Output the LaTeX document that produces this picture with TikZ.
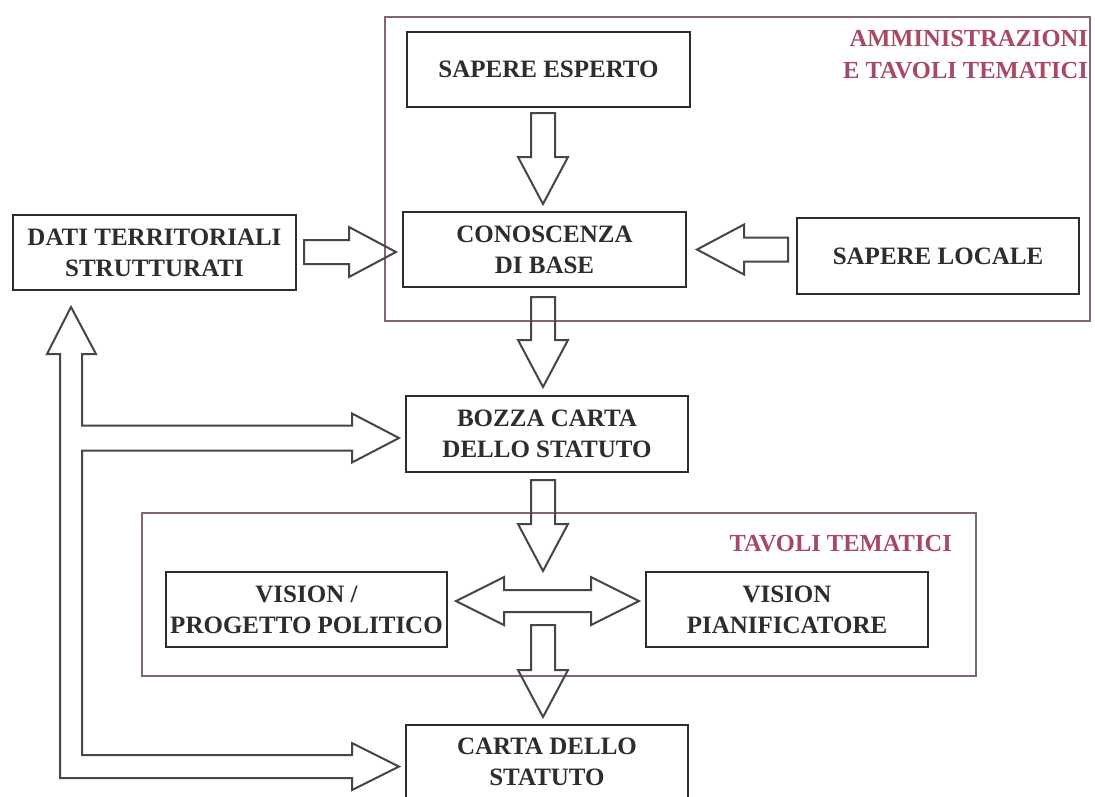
\documentclass[tikz,border=0pt]{standalone}
\usepackage{fontspec}
\setmainfont{Liberation Serif}
\usetikzlibrary{calc}
\definecolor{ink}{RGB}{45,45,45}
\definecolor{frame}{RGB}{128,104,110}
\definecolor{lab}{RGB}{168,72,98}
\definecolor{arr}{RGB}{70,70,70}
\tikzset{
 box/.style={draw=ink, line width=2pt, fill=white, text=ink, align=center, inner sep=2pt,
   font=\fontsize{25}{31}\selectfont\bfseries},
 grp/.style={draw=frame, line width=2pt, inner sep=0pt},
 grplabel/.style={text=lab, align=right, inner sep=0pt, font=\fontsize{24.5}{32}\selectfont\bfseries},
 blk/.style={draw=arr, line width=2pt, line join=miter},
}
\newcommand{\downblk}[2]{\draw[blk] ($(#1)+(-12,0)$) -- ($(#2)+(-12,-47)$) -- ($(#2)+(-25,-47)$) -- (#2) -- ($(#2)+(25,-47)$) -- ($(#2)+(12,-47)$) -- ($(#1)+(12,0)$) -- cycle;}
\newcommand{\rightblk}[2]{\draw[blk] ($(#1)+(0,-12)$) -- ($(#2)+(-47,-12)$) -- ($(#2)+(-47,-25)$) -- (#2) -- ($(#2)+(-47,25)$) -- ($(#2)+(-47,12)$) -- ($(#1)+(0,12)$) -- cycle;}
\newcommand{\leftblk}[2]{\draw[blk] ($(#1)+(0,-12)$) -- ($(#2)+(47,-12)$) -- ($(#2)+(47,-25)$) -- (#2) -- ($(#2)+(47,25)$) -- ($(#2)+(47,12)$) -- ($(#1)+(0,12)$) -- cycle;}
\begin{document}
\begin{tikzpicture}[x=1pt,y=-1pt]
\clip (0,0) rectangle (1095,796);
\fill[white] (0,0) rectangle (1095,796);

% group frames
\node[grp, minimum width=705pt, minimum height=304pt] (g1) at (737.5,169) {};
\node[grp, minimum width=834pt, minimum height=163pt] (g2) at (559,594.5) {};
\node[grplabel, anchor=north east] (lab1) at (1088,30) {AMMINISTRAZIONI\\E TAVOLI TEMATICI};
\node[grplabel, anchor=base east] (lab2) at (952,551) {TAVOLI TEMATICI};

% boxes
\node[box, minimum width=283pt, minimum height=75pt] (sape) at (548.5,69.5) {SAPERE ESPERTO};
\node[box, minimum width=283pt, minimum height=75pt] (cb) at (544.5,249.5) {CONOSCENZA\\DI BASE};
\node[box, minimum width=282pt, minimum height=76pt] (sl) at (938,256) {SAPERE LOCALE};
\node[box, minimum width=283pt, minimum height=75pt] (dati) at (154.5,252.5) {DATI TERRITORIALI\\STRUTTURATI};
\node[box, minimum width=282pt, minimum height=76pt] (bozza) at (547,434) {BOZZA CARTA\\DELLO STATUTO};
\node[box, minimum width=281pt, minimum height=75pt] (vpp) at (306.5,609.5) {VISION /\\PROGETTO POLITICO};
\node[box, minimum width=282pt, minimum height=75pt] (vpl) at (787,609.5) {VISION\\PIANIFICATORE};
\node[box, minimum width=282pt, minimum height=74pt] (carta) at (547,762) {CARTA DELLO\\STATUTO};

% column of the vertical arrows
\coordinate (col) at (543,0);

% vertical block arrows
\downblk{$(sape.south -| col)+(0,5)$}{$(cb.north -| col)+(0,-7)$}
\downblk{$(cb.south -| col)+(0,9)$}{$(bozza.north -| col)+(0,-8)$}
\downblk{$(bozza.south -| col)+(0,7)$}{vpp.north -| col}
\downblk{$(vpp.south -| col)+(0,-23)$}{$(carta.north -| col)+(0,-7)$}

% horizontal block arrows
\coordinate (d1) at ($(dati.east)+(7,-0.5)$);
\coordinate (d2) at ($(cb.west |- d1)+(-6,0)$);
\rightblk{d1}{d2}
\coordinate (s1) at ($(sl.west |- cb.east)+(-8,0)$);
\coordinate (s2) at ($(cb.east)+(10,0)$);
\leftblk{s1}{s2}

% double arrow between the visions
\coordinate (L) at ($(vpp.east)+(8,-8.5)$);
\coordinate (R) at ($(vpl.west)+(-6,-8.5)$);
\draw[blk] (L) -- ($(L)+(48,-24)$) -- ($(L)+(48,-11)$) -- ($(R)+(-48,-11)$) -- ($(R)+(-48,-24)$) -- (R)
  -- ($(R)+(-48,24)$) -- ($(R)+(-48,11)$) -- ($(L)+(48,11)$) -- ($(L)+(48,24)$) -- cycle;

% feedback arrow to DATI, and from it to BOZZA and CARTA
\coordinate (T0) at ($(dati.south west)+(59,16)$);
\coordinate (TB) at ($(bozza.west)+(-6,4)$);
\coordinate (TC) at ($(carta.west)+(-6,4.5)$);
\draw[blk] (T0) -- ($(T0)+(25,47)$) -- ($(T0)+(11,47)$) -- ($(T0 |- TB)+(11,-12.5)$)
  -- ($(TB)+(-47,-12.5)$) -- ($(TB)+(-47,-24.5)$) -- (TB) -- ($(TB)+(-47,24.5)$) -- ($(TB)+(-47,12.5)$)
  -- ($(T0 |- TB)+(11,12.5)$) -- ($(T0 |- TC)+(11,-11.5)$)
  -- ($(TC)+(-47,-11.5)$) -- ($(TC)+(-47,-23.5)$) -- (TC) -- ($(TC)+(-47,23.5)$) -- ($(TC)+(-47,11.5)$)
  -- ($(T0 |- TC)+(-11,11.5)$) -- ($(T0)+(-11,47)$) -- ($(T0)+(-24,47)$) -- cycle;
\end{tikzpicture}
\end{document}
